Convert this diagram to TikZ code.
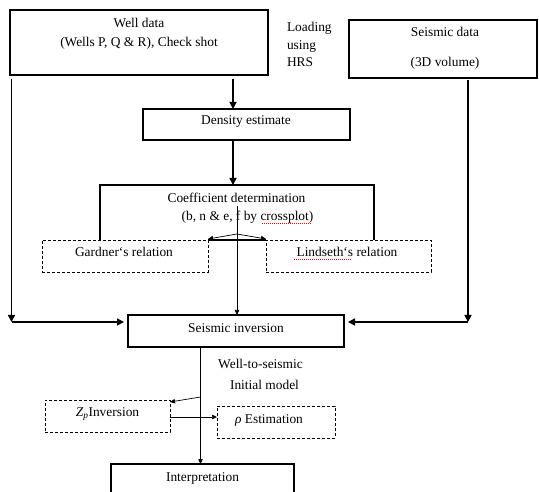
\documentclass[tikz,border=0pt]{standalone}
\usepackage{fontspec}
\setmainfont{Liberation Serif}
\usetikzlibrary{arrows.meta}
\begin{document}
\begin{tikzpicture}[x=1pt,y=-1pt,
  every node/.style={font=\fontsize{13.4}{16}\selectfont, inner sep=0pt, outer sep=0pt},
  thickbox/.style={draw, line width=1.6pt},
  dashbox/.style={draw, line width=0.6pt, dash pattern=on 3pt off 2pt},
  txt/.style={anchor=base},
  bigarrow/.style={line width=1.6pt, -{Triangle[length=7pt,width=7pt]}},
  bigline/.style={line width=1.6pt},
  smallarrow/.style={line width=0.7pt, -{Triangle[length=5pt,width=4.5pt]}},
  squiggle/.style={red, line width=0.5pt, dash pattern=on 1pt off 1pt},
]
\useasboundingbox (0,0) rectangle (539,492);

% boxes
\node[thickbox, minimum width=258pt, minimum height=65pt] (well) at (139,42.5) {};
\node[thickbox, minimum width=188pt, minimum height=58pt] (seis) at (443,49) {};
\node[thickbox, minimum width=207pt, minimum height=31pt] (dens) at (246.5,124.5) {};
\node[minimum width=274pt, minimum height=55pt] (coef) at (237,212.5) {};
\draw[bigline] (coef.south west) |- (coef.north east) -- (coef.south east);
\node[dashbox, minimum width=166pt, minimum height=32pt] (gard) at (125,256) {};
\node[dashbox, minimum width=165pt, minimum height=32pt] (lind) at (348.5,256) {};
\node[thickbox, minimum width=216pt, minimum height=32pt] (inv) at (236,331) {};
\node[dashbox, minimum width=125pt, minimum height=32pt] (zp) at (107.5,416) {};
\node[dashbox, minimum width=118pt, minimum height=32pt] (rho) at (276,422) {};
\node[thickbox, minimum width=183pt, minimum height=40pt] (interp) at (202.5,484) {};

% texts
\node[txt] (t1) at (139,28) {Well data};
\node[txt] (t2) at (139,47) {(Wells P, Q \& R), Check shot};
\node[txt, anchor=base west] (l1) at (287,32) {Loading};
\node[txt, anchor=base west] (l2) at (287,50) {using};
\node[txt, anchor=base west] (l3) at (287,67) {HRS};
\node[txt] (s1) at (445,37) {Seismic data};
\node[txt] (s2) at (445,67) {(3D volume)};
\node[txt] (d1) at (246,125) {Density estimate};
\node[txt] (c1) at (236.5,203) {Coefficient determination};
\node[txt] (c2) at (247.5,221) {(b, n \& e, f by crossplot)};
\node[txt] (g1) at (124,257) {Gardner‘s relation};
\node[txt] (g2) at (347,257) {Lindseth‘s relation};
\node[txt] (i1) at (236,332) {Seismic inversion};
\node[txt] (w1) at (260.5,368) {Well-to-seismic};
\node[txt] (w2) at (264.5,389) {Initial model};
\node[txt] (z1) at (107.5,416) {\textit{Z}\textsubscript{\textit{p}}Inversion};
\node[txt] (r1) at (269,423) {\textit{ρ} Estimation};
\node[txt] (p1) at (202.5,481) {Interpretation};

% spell-check squiggles
\draw[squiggle] ([xshift=14pt,yshift=-2.5pt]c2.base) -- ([xshift=64pt,yshift=-2.5pt]c2.base);
\draw[squiggle] ([xshift=-53pt,yshift=-2.5pt]g2.base) -- ([xshift=5pt,yshift=-2.5pt]g2.base);

% helper coordinates
\coordinate (ax) at (233,0);
\coordinate (lx) at (11.5,0);
\coordinate (rx) at (468,0);
\coordinate (lc) at (11.5,322);
\coordinate (rc) at (468,322);
\coordinate (vtop) at (237,206);
\coordinate (apex) at (237,234);
\coordinate (bx) at (200.5,0);
\coordinate (zsrc) at (200.5,397);
\coordinate (zr) at ([yshift=-1pt]zp.east);
\coordinate (gtip) at ([yshift=1pt]gard.north east);
\coordinate (ltip) at ([yshift=1pt]lind.north west);
\coordinate (ztip) at ([yshift=-2pt]zp.north east);

% connectors
\draw[bigarrow, shorten <=4pt] (well.south -| ax) -- (dens.north -| ax);
\draw[bigarrow] (dens.south -| ax) -- (coef.north -| ax);
\draw[bigarrow, shorten <=4pt] (well.south -| lx) -- (lc);
\draw[bigarrow, shorten >=4pt] (lc) -- (inv.west |- lc);
\draw[bigarrow, shorten <=2pt] (seis.south -| rx) -- (rc);
\draw[bigarrow, shorten >=4pt] (rc) -- (inv.east |- rc);
\draw[bigline] (gard.north east) -- (lind.north west);
\draw[smallarrow] (apex) -- (gtip);
\draw[smallarrow] (apex) -- (ltip);
\draw[smallarrow] (vtop) -- (inv.north -| vtop);
\draw[smallarrow] (inv.south -| bx) -- (interp.north -| bx);
\draw[smallarrow] (zsrc) -- (ztip);
\draw[smallarrow] (zr) -- (rho.west |- zr);
\end{tikzpicture}
\end{document}
